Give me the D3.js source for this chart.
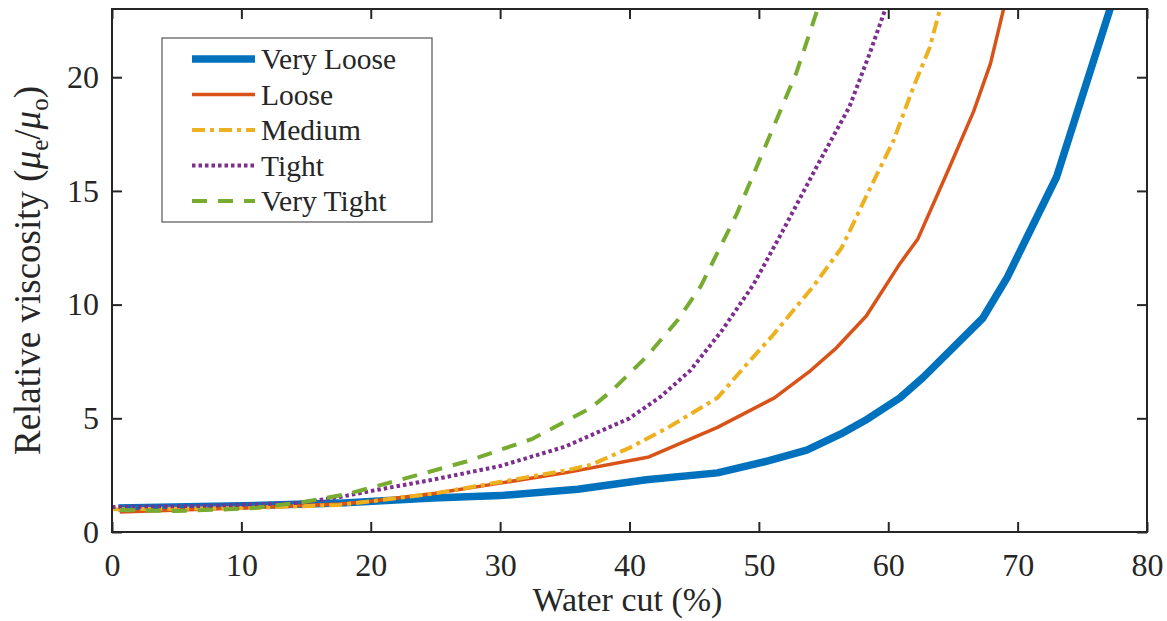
<!DOCTYPE html>
<html>
<head>
<meta charset="utf-8">
<script src="https://cdnjs.cloudflare.com/ajax/libs/d3/7.8.5/d3.min.js"></script>
<style>
  body { margin: 0; background: #fff; }
  svg text { font-family: "Liberation Serif", "Times New Roman", serif; fill: #262626; }
</style>
</head>
<body>
<svg id="canvas" width="1167" height="621"></svg>
<script>
/*
 Relative viscosity vs water cut, one curve per emulsion tightness */

var seriesNames = ['Very Loose', 'Loose', 'Medium', 'Tight', 'Very Tight'];

var cutVeryLoose  = [0.5, 10, 17.6, 24.8, 30, 36, 41.3, 46.8, 50.5, 53.7, 56.3, 58.2, 60.9, 62.7, 67.3, 69.2, 73.0, 77.2];
var viscVeryLoose = [1.05, 1.15, 1.27, 1.5, 1.6, 1.88, 2.3, 2.6, 3.1, 3.6, 4.3, 4.9, 5.9, 6.8, 9.4, 11.2, 15.6, 23.1];

var cutLoose  = [0.6, 10, 17.6, 20, 25, 30, 35, 41.5, 46.8, 51.2, 54.0, 56.0, 58.3, 60.9, 62.3, 64.7, 66.6, 67.9, 69.0];
var viscLoose = [0.88, 1.05, 1.23, 1.35, 1.7, 2.15, 2.6, 3.3, 4.6, 5.9, 7.1, 8.1, 9.5, 11.8, 12.9, 16.0, 18.5, 20.6, 23.2];

var cutMedium  = [0.1, 10, 17.6, 20, 25, 30, 35, 37, 40, 43, 46.8, 49.1, 51, 54.2, 56.4, 58.5, 60.4, 61.9, 63.2, 64.1];
var viscMedium = [1.0, 1.05, 1.19, 1.35, 1.7, 2.2, 2.7, 2.95, 3.7, 4.6, 5.9, 7.4, 8.6, 10.8, 12.5, 15.0, 17.2, 19.5, 21.3, 23.2];

var cutTight  = [0, 7, 14.5, 17.6, 19.7, 24.8, 30, 35, 40, 42.4, 44.7, 47.2, 49.6, 51.9, 54.5, 57.0, 58.6, 59.9];
var viscTight = [1.1, 1.15, 1.28, 1.54, 1.77, 2.3, 2.9, 3.75, 5.0, 5.95, 7.1, 8.9, 10.9, 13.3, 16.1, 18.7, 21.1, 23.2];

var cutVeryTight  = [0.6, 5, 9, 11, 14.8, 18.2, 22.3, 27.4, 32.5, 37.0, 38.7, 41.3, 43.7, 45.5, 48.3, 50.9, 52.9, 54.6];
var viscVeryTight = [0.97, 0.92, 1.0, 1.05, 1.32, 1.67, 2.3, 3.1, 4.1, 5.45, 6.25, 7.7, 9.3, 10.8, 14.0, 17.5, 20.2, 23.1];

var xTicks = [0, 10, 20, 30, 40, 50, 60, 70, 80];
var yTicks = [0, 5, 10, 15, 20];

// styling per series (matlab default colour order)
var styles = [
  { color: '#0072BD', width: 7.5, dash: null },
  { color: '#D95319', width: 3.5, dash: null },
  { color: '#EDB120', width: 4,   dash: '13,5,4,5' },
  { color: '#7E2F8E', width: 4,   dash: '3.5,3' },
  { color: '#77AC30', width: 4,   dash: '15,11' }
];

var cuts = [cutVeryLoose, cutLoose, cutMedium, cutTight, cutVeryTight];
var viscs = [viscVeryLoose, viscLoose, viscMedium, viscTight, viscVeryTight];

// plot box in pixels ("top" is taken by window.top, hence the prefix)
var plotLeft = 112, plotRight = 1147, plotTop = 9, plotBottom = 532;

var svg = d3.select('#canvas');

var x = d3.scaleLinear().domain([0, 80]).range([plotLeft, plotRight]);
var y = d3.scaleLinear().domain([0, 23]).range([plotBottom, plotTop]);

svg.append('clipPath').attr('id', 'plotclip')
  .append('rect')
  .attr('x', plotLeft).attr('y', plotTop)
  .attr('width', plotRight - plotLeft).attr('height', plotBottom - plotTop);

/*
 curves */
var line = d3.line()
  .x(function(d) { return x(d[0]); })
  .y(function(d) { return y(d[1]); });

var curves = svg.append('g').attr('clip-path', 'url(#plotclip)');
for (var i = 0; i < seriesNames.length; i++) {
  var pts = d3.zip(cuts[i], viscs[i]);
  curves.append('path')
    .datum(pts)
    .attr('d', line)
    .attr('fill', 'none')
    .attr('stroke', styles[i].color)
    .attr('stroke-width', styles[i].width)
    .attr('stroke-linejoin', 'round')
    .attr('stroke-dasharray', styles[i].dash);
}

/*
 axes: inward ticks on all four sides, matlab box style */
var tickLen = 10;
function styleAxis(g) {
  g.select('.domain').remove();
  g.selectAll('.tick line').attr('stroke', '#262626').attr('stroke-width', 2);
  g.selectAll('.tick text').style('font-size', '32px').attr('fill', '#262626');
}

svg.append('g')
  .attr('transform', 'translate(0,' + plotBottom + ')')
  .call(d3.axisBottom(x).tickValues(xTicks).tickSize(-tickLen).tickPadding(21))
  .call(styleAxis);

svg.append('g')
  .attr('transform', 'translate(0,' + plotTop + ')')
  .call(d3.axisTop(x).tickValues(xTicks).tickSize(-tickLen).tickFormat(''))
  .call(styleAxis);

svg.append('g')
  .attr('transform', 'translate(' + plotLeft + ',0)')
  .call(d3.axisLeft(y).tickValues(yTicks).tickSize(-tickLen).tickPadding(13))
  .call(styleAxis);

svg.append('g')
  .attr('transform', 'translate(' + plotRight + ',0)')
  .call(d3.axisRight(y).tickValues(yTicks).tickSize(-tickLen).tickFormat(''))
  .call(styleAxis);

svg.append('rect')
  .attr('x', plotLeft).attr('y', plotTop)
  .attr('width', plotRight - plotLeft).attr('height', plotBottom - plotTop)
  .attr('fill', 'none').attr('stroke', '#262626').attr('stroke-width', 2);

/*
 axis labels */
svg.append('text')
  .attr('x', (plotLeft + plotRight) / 2 - 2)
  .attr('y', 611)
  .attr('text-anchor', 'middle')
  .style('font-size', '34px')
  .text('Water cut (%)');

var ylab = svg.append('text')
  .attr('transform', 'translate(40,' + ((plotTop + plotBottom) / 2) + ') rotate(-90)')
  .attr('text-anchor', 'middle')
  .style('font-size', '37px');
ylab.append('tspan').text('Relative viscosity (');
ylab.append('tspan').style('font-style', 'italic').text('\u03bc');
ylab.append('tspan').attr('dy', 8).style('font-size', '25px').text('e');
ylab.append('tspan').attr('dy', -8).text('/');
ylab.append('tspan').style('font-style', 'italic').text('\u03bc');
ylab.append('tspan').attr('dy', 8).style('font-size', '25px').text('o');
ylab.append('tspan').attr('dy', -8).text(')');

/*
 legend */
var legend = svg.append('g');
legend.append('rect')
  .attr('x', 162).attr('y', 38)
  .attr('width', 270).attr('height', 184)
  .attr('fill', '#fff').attr('stroke', '#555').attr('stroke-width', 1.2);

var rowY = d3.scaleLinear().domain([0, 4]).range([59, 201]);
seriesNames.forEach(function(name, i) {
  legend.append('line')
    .attr('x1', 192).attr('x2', 255)
    .attr('y1', rowY(i)).attr('y2', rowY(i))
    .attr('stroke', styles[i].color)
    .attr('stroke-width', styles[i].width)
    .attr('stroke-dasharray', styles[i].dash);
  legend.append('text')
    .attr('x', 261).attr('y', rowY(i) + 10)
    .style('font-size', '29.5px')
    .text(name);
});
</script>
</body>
</html>
